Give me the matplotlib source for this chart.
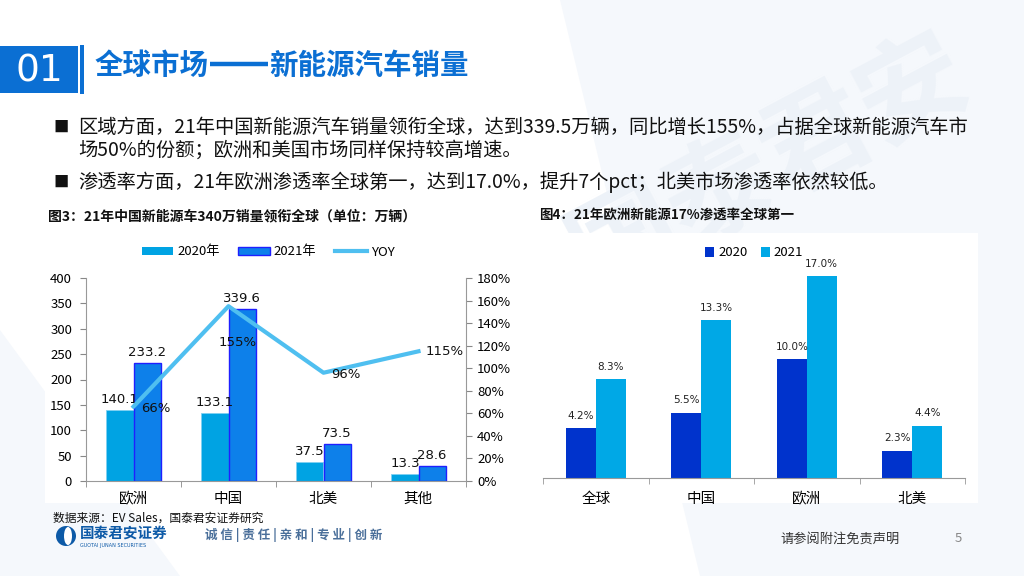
import matplotlib
matplotlib.use("Agg")
import matplotlib.pyplot as plt
from matplotlib.patches import Rectangle, Ellipse, Polygon
from matplotlib.lines import Line2D
from matplotlib.ticker import FuncFormatter, FixedLocator
import numpy as np

plt.rcParams['font.family'] = ['Noto Sans CJK SC', 'DejaVu Sans']

# ---------------- data ----------------
regions_sales = ["欧洲", "中国", "北美", "其他"]
sales_2020 = [140.1, 133.1, 37.5, 13.3]
sales_2021 = [233.2, 339.6, 73.5, 28.6]
yoy = [0.66, 1.55, 0.96, 1.15]
yoy_labels = ["66%", "155%", "96%", "115%"]

regions_pen = ["全球", "中国", "欧洲", "北美"]
pen_2020 = [4.2, 5.5, 10.0, 2.3]
pen_2021 = [8.3, 13.3, 17.0, 4.4]

left_ticks = [0, 50, 100, 150, 200, 250, 300, 350, 400]
right_ticks = [0, 0.2, 0.4, 0.6, 0.8, 1.0, 1.2, 1.4, 1.6, 1.8]

title_left = "全球市场"
title_right = "新能源汽车销量"
bullets = [
    "区域方面，21年中国新能源汽车销量领衔全球，达到339.5万辆，同比增长155%，占据全球新能源汽车市",
    "场50%的份额；欧洲和美国市场同样保持较高增速。",
    "渗透率方面，21年欧洲渗透率全球第一，达到17.0%，提升7个pct；北美市场渗透率依然较低。",
]

W, H = 1024, 576
fig = plt.figure(figsize=(W / 100, H / 100), dpi=100)
fig.patch.set_facecolor("white")


def fx(x):
    return x / W


def fy(y):
    return 1 - y / H


def frect(x0, y0, x1, y1, **kw):
    r = Rectangle((fx(x0), fy(y1)), fx(x1) - fx(x0), fy(y0) - fy(y1),
                  transform=fig.transFigure, **kw)
    fig.patches.append(r)
    return r


# background shapes (light)
for pts in [[(560, 0), (1024, 0), (1024, 576), (700, 576)],
            [(0, 330), (180, 576), (0, 576)]]:
    fig.patches.append(Polygon([(fx(a), fy(b)) for a, b in pts], closed=True,
                               transform=fig.transFigure, facecolor="#f5f8fc",
                               edgecolor="none", zorder=0))
fig.text(fx(770), fy(165), "国泰君安", fontsize=78, color="#edf2f8",
         rotation=28, ha="center", va="center", fontweight="bold", zorder=0)

# title block
blue = "#0b6fd3"
frect(0, 46, 78, 93, facecolor=blue, edgecolor="none", zorder=2)
frect(80, 45, 84, 94, facecolor=blue, edgecolor="none", zorder=2)
fig.text(fx(39), fy(71), "01", color="white", fontsize=27, ha="center",
         va="center", family=["DejaVu Sans"], zorder=3)
t1 = fig.text(fx(95), fy(66), title_left, color=blue, fontsize=20.5,
              fontweight="bold", ha="left", va="center", zorder=3)
fig.canvas.draw()
r = fig.canvas.get_renderer()
x_end = t1.get_window_extent(renderer=r).x1  # pixels
dash_len = 58
fig.add_artist(Line2D([(x_end + 1) / W, (x_end + 1 + dash_len) / W],
                      [fy(64), fy(64)], transform=fig.transFigure,
                      color=blue, linewidth=3.2, solid_capstyle="butt",
                      zorder=3))
fig.text((x_end + 2 + dash_len) / W, fy(66), title_right, color=blue,
         fontsize=20.5, fontweight="bold", ha="left", va="center", zorder=3)

# bullets
bullet_y = [127, 150, 182]
for i, (t, y) in enumerate(zip(bullets, bullet_y)):
    if i != 1:
        fig.text(fx(53), fy(y), "■", fontsize=11, ha="left", va="center",
                 color="#111111", zorder=3)
    fig.text(fx(78), fy(y), t, fontsize=13.9, ha="left", va="center",
             color="#111111", zorder=3)

# captions
fig.text(fx(48), fy(216), "图3：21年中国新能源车340万销量领衔全球（单位：万辆）",
         fontsize=10, fontweight="bold", ha="left", va="center", color="#111111",
         zorder=3)
fig.text(fx(539), fy(216), "图4：21年欧洲新能源17%渗透率全球第一",
         fontsize=9.7, fontweight="bold", ha="left", va="center", color="#111111",
         zorder=3)

# white panels
frect(45, 234, 515, 503, facecolor="white", edgecolor="none", zorder=1)
frect(535, 233, 978, 503, facecolor="white", edgecolor="none", zorder=1)

# ---------------- left chart ----------------
ax = fig.add_axes([fx(86), fy(481), fx(466) - fx(86), fy(278) - fy(481)])
ax.set_zorder(5)
ax.set_facecolor("none")
x = np.arange(len(regions_sales))
bw = 0.285
c20 = "#00a3e3"
c21 = "#0d80ea"
ax.bar(x - bw / 2, sales_2020, bw, color=c20, edgecolor="#7fd0f2",
       linewidth=0.6, zorder=2)
ax.bar(x + bw / 2, sales_2021, bw, color=c21, edgecolor="#1f1fff",
       linewidth=1.0, zorder=2)
ax.set_xlim(-0.5, 3.5)
ax.set_ylim(0, 400)
ax.set_yticks(left_ticks)
ax.set_xticks(x)
ax.set_xticklabels(regions_sales, fontsize=10.5)
ax.xaxis.set_minor_locator(FixedLocator([-0.5, 0.5, 1.5, 2.5, 3.5]))
ax.tick_params(axis="x", which="major", length=0, pad=8)
ax.tick_params(axis="x", which="minor", length=4, color="#888888")
ax.tick_params(axis="y", labelsize=9.5, length=4, color="#888888", pad=6)
for s in ["top", "right"]:
    ax.spines[s].set_visible(False)
ax.spines["left"].set_color("#999999")
ax.spines["bottom"].set_color("#999999")
for xi, v in zip(x, sales_2020):
    ax.text(xi - bw / 2, v + 8, f"{v:.1f}", ha="center", va="bottom",
            fontsize=9.5, family=["DejaVu Sans"], color="#111111", zorder=4)
for xi, v in zip(x, sales_2021):
    ax.text(xi + bw / 2, v + 8, f"{v:.1f}", ha="center", va="bottom",
            fontsize=9.5, family=["DejaVu Sans"], color="#111111", zorder=4)

ax2 = ax.twinx()
ax2.set_zorder(6)
ax2.set_facecolor("none")
ax2.set_ylim(0, 1.8)
ax2.set_yticks(right_ticks)
ax2.yaxis.set_major_formatter(FuncFormatter(lambda v, p: f"{v * 100:.0f}%"))
ax2.tick_params(axis="y", labelsize=9.5, length=4, color="#888888", pad=4)
for s in ["top", "left", "bottom"]:
    ax2.spines[s].set_visible(False)
ax2.spines["right"].set_color("#999999")
ax2.plot(x, yoy, color="#4fbff0", linewidth=3, zorder=3)
yoy_offsets = [(22, -2), (9, -36), (22, -2), (26, 0)]
for xi, v, lab, (dx, dy) in zip(x, yoy, yoy_labels, yoy_offsets):
    ax2.annotate(lab, (xi, v), xytext=(dx, dy), textcoords="offset pixels",
                 ha="center", va="center", fontsize=9.5,
                 family=["DejaVu Sans"], color="#111111")

handles = [Rectangle((0, 0), 1, 1, facecolor=c20, edgecolor="none"),
           Rectangle((0, 0), 1, 1, facecolor=c21, edgecolor="#1f1fff"),
           Line2D([0], [0], color="#4fbff0", linewidth=3)]
leg = fig.legend(handles, ["2020年", "2021年", "YOY"], loc="center",
                 bbox_to_anchor=(fx(268), fy(252)), ncol=3, frameon=False,
                 fontsize=9.5, handlelength=2.4, handleheight=0.5,
                 columnspacing=1.4, handletextpad=0.3)
leg.set_zorder(7)

# ---------------- right chart ----------------
axr = fig.add_axes([fx(543), fy(478), fx(965) - fx(543), fy(240) - fy(478)])
axr.set_zorder(5)
axr.set_facecolor("none")
xr = np.arange(len(regions_pen))
bw2 = 0.284
p20 = "#0033cc"
p21 = "#00a8e6"
axr.bar(xr - bw2 / 2, pen_2020, bw2, color=p20, label="2020", zorder=2)
axr.bar(xr + bw2 / 2, pen_2021, bw2, color=p21, label="2021", zorder=2)
axr.set_xlim(-0.5, 3.5)
axr.set_ylim(0, 20)
axr.set_yticks([])
axr.set_xticks(xr)
axr.set_xticklabels(regions_pen, fontsize=10.5)
axr.xaxis.set_minor_locator(FixedLocator([-0.5, 0.5, 1.5, 2.5, 3.5]))
axr.tick_params(axis="x", which="major", length=0, pad=10)
axr.tick_params(axis="x", which="minor", length=4, color="#999999")
for s in ["top", "right", "left"]:
    axr.spines[s].set_visible(False)
axr.spines["bottom"].set_color("#999999")
for xi, v in zip(xr, pen_2020):
    axr.text(xi - bw2 / 2, v + 0.6, f"{v:.1f}%", ha="center", va="bottom",
             fontsize=7.5, family=["DejaVu Sans"], color="#222222")
for xi, v in zip(xr, pen_2021):
    axr.text(xi + bw2 / 2, v + 0.6, f"{v:.1f}%", ha="center", va="bottom",
             fontsize=7.5, family=["DejaVu Sans"], color="#222222")
axr.legend(loc="center", bbox_to_anchor=(0.5, (fy(253) - fy(478)) / (fy(240) - fy(478))),
           ncol=2, frameon=False, fontsize=9.5, handlelength=0.7,
           handleheight=0.7, columnspacing=1.0, handletextpad=0.3)

# ---------------- footer ----------------
fig.text(fx(53), fy(518), "数据来源：EV Sales，国泰君安证券研究", fontsize=8.5,
         ha="left", va="center", color="#111111", zorder=3)
fig.patches.append(Ellipse((fx(66), fy(536)), fx(20) - fx(0), fy(0) - fy(20),
                           transform=fig.transFigure, facecolor="#0d5aa7",
                           edgecolor="none", zorder=2))
fig.patches.append(Ellipse((fx(68), fy(536)), fx(8) - fx(0), fy(0) - fy(18),
                           transform=fig.transFigure, facecolor="white",
                           edgecolor="none", zorder=3))
fig.text(fx(80), fy(533), "国泰君安证券", fontsize=10.5, fontweight="bold",
         ha="left", va="center", color="#0d5aa7", zorder=3)
fig.text(fx(80), fy(545), "GUOTAI JUNAN SECURITIES", fontsize=3.5,
         ha="left", va="center", color="#0d5aa7", family=["DejaVu Sans"], zorder=3)
fig.text(fx(205), fy(535), "诚 信 | 责 任 | 亲 和 | 专 业 | 创 新", fontsize=9,
         fontweight="bold", ha="left", va="center", color="#4a6f9a", zorder=3)
fig.text(fx(780), fy(539), "请参阅附注免责声明", fontsize=9.5, ha="left",
         va="center", color="#333333", zorder=3)
fig.text(fx(958), fy(539), "5", fontsize=9.5, ha="center", va="center",
         color="#888888", zorder=3)

fig.savefig("out.png", dpi=100)
